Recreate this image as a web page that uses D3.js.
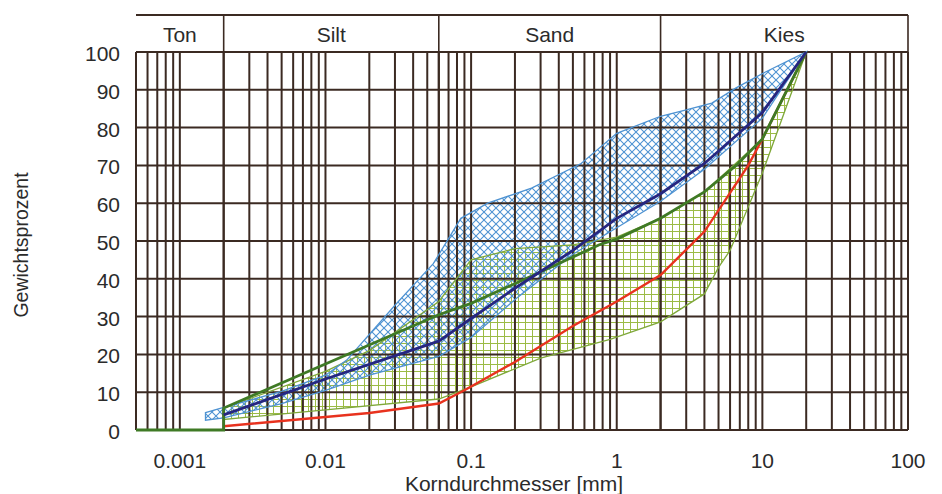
<!DOCTYPE html>
<html>
<head>
<meta charset="utf-8">
<script src="https://cdn.jsdelivr.net/npm/d3@7/dist/d3.min.js"></script>
<style>
	body { margin:0; background:#fff; }
	text { font-family: "Liberation Sans", Arial, sans-serif; fill:#2b2b2b; }
</style>
</head>
<body>
<div id="chart"></div>
<script>
//Korngrößenverteilung - values

var xTickLabels = [0.001, 0.01, 0.1, 1, 10, 100];
var yTicks = [0, 10, 20, 30, 40, 50, 60, 70, 80, 90, 100];
var fractionNames = ["Ton", "Silt", "Sand", "Kies"];
var fractionBounds = [0.0005, 0.002, 0.06, 2, 100];

//blue range (cross hatched)
var blueUpper = [[0.0015,4.6],[0.002,6],[0.005,10.2],[0.01,14.5],[0.014,18.5],[0.03,33],[0.055,44],[0.085,56],[0.13,60],[0.26,64],[0.57,70.5],[1,78.5],[2,83],[3,84.7],[4.5,86.5],[6.6,90.5],[10.5,94.7],[20,100]];
var blueLower = [[0.0015,2.6],[0.002,3.2],[0.005,7],[0.01,10.5],[0.02,14.5],[0.06,19.5],[0.1,24.5],[0.2,34.5],[0.5,46.5],[1,53.5],[2,60.5],[4,69],[10,82.5],[20,100]];

//green range (square hatched)
var greenUpper = [[0.002,5.8],[0.01,15.5],[0.02,21],[0.06,34],[0.1,45],[0.2,48],[0.5,49],[1,51],[2,56],[4,63],[10,77],[20,100]];
var greenLower = [[0.002,2.8],[0.01,5.3],[0.06,8.2],[0.1,11.4],[0.3,19],[0.9,24],[2,28.6],[4,36],[5,43],[6,47.5],[10,68],[20,100]];

//single curves
var navyLine = [[0.002,4],[0.01,13.5],[0.06,23.5],[0.1,29.5],[0.2,37.5],[0.5,47.5],[1,56],[2,62.5],[4,70.5],[10,84],[20,100]];
var darkGreenLine = [[0.0005,0],[0.002,0],[0.002,5.8],[0.06,30.5],[0.1,33.5],[0.27,41],[0.76,49],[1,50.5],[2,56],[4,63],[6.6,70],[10,77],[20,100]];
var redLine = [[0.002,1],[0.02,4.5],[0.06,7],[0.09,10.5],[0.2,18],[0.5,27.5],[1,34],[2,41],[4,52.5],[8,70],[10,77],[20,100]];

var width = 942, height = 494;
var margin = { left: 136, right: 908, top: 52, bottom: 430, head: 15 };

var svg = d3.select("#chart").append("svg")
	.attr("width", width)
	.attr("height", height);

var x = d3.scaleLog().domain([fractionBounds[0], fractionBounds[fractionBounds.length-1]]).range([margin.left, margin.right]);
var y = d3.scaleLinear().domain([0, 100]).range([margin.bottom, margin.top]);

///////////////////////////////////////////////////////////////////////////
////////////////////////////// Hatch patterns /////////////////////////////
///////////////////////////////////////////////////////////////////////////

var defs = svg.append("defs");

var bluePat = defs.append("pattern")
	.attr("id", "blueHatch")
	.attr("patternUnits", "userSpaceOnUse")
	.attr("width", 8).attr("height", 8);
bluePat.append("path").attr("d", "M0,0 L8,8 M-2,6 L2,10 M6,-2 L10,2").style("stroke", "#4f93d2").style("stroke-width", 1.1);
bluePat.append("path").attr("d", "M0,8 L8,0 M-2,2 L2,-2 M6,10 L10,6").style("stroke", "#4f93d2").style("stroke-width", 1.1);

var greenPat = defs.append("pattern")
	.attr("id", "greenHatch")
	.attr("patternUnits", "userSpaceOnUse")
	.attr("width", 7).attr("height", 7);
greenPat.append("path").attr("d", "M0,0.5 H7 M0.5,0 V7").style("stroke", "#9bbb45").style("stroke-width", 1);

var line = d3.line().x(function(d){ return x(d[0]); }).y(function(d){ return y(d[1]); });

function band(upper, lower) {
	return upper.concat(lower.slice().reverse());
}

//green area first, blue on top
svg.append("path")
	.attr("d", line(band(greenUpper, greenLower)) + "Z")
	.style("fill", "url(#greenHatch)");
svg.append("path")
	.attr("d", line(band(blueUpper, blueLower)) + "Z")
	.style("fill", "url(#blueHatch)");

///////////////////////////////////////////////////////////////////////////
/////////////////////////////////// Grid //////////////////////////////////
///////////////////////////////////////////////////////////////////////////

var gridColor = "#3b2a22";

svg.append("g").selectAll("line.vgrid")
	.data(x.ticks())
	.enter().append("line")
	.attr("class", "vgrid")
	.attr("x1", function(d){ return x(d); })
	.attr("x2", function(d){ return x(d); })
	.attr("y1", margin.top).attr("y2", margin.bottom)
	.style("stroke", gridColor).style("stroke-width", 2);

svg.append("g").selectAll("line.hgrid")
	.data(yTicks)
	.enter().append("line")
	.attr("class", "hgrid")
	.attr("x1", margin.left).attr("x2", margin.right)
	.attr("y1", function(d){ return y(d); })
	.attr("y2", function(d){ return y(d); })
	.style("stroke", gridColor).style("stroke-width", 2);

//fraction boundaries also inside the plot
svg.append("g").selectAll("line.fgrid")
	.data(fractionBounds)
	.enter().append("line")
	.attr("x1", function(d){ return x(d); })
	.attr("x2", function(d){ return x(d); })
	.attr("y1", margin.top).attr("y2", margin.bottom)
	.style("stroke", gridColor).style("stroke-width", 2);

///////////////////////////////////////////////////////////////////////////
////////////////////////////////// Header /////////////////////////////////
///////////////////////////////////////////////////////////////////////////

svg.append("line")
	.attr("x1", margin.left).attr("x2", margin.right)
	.attr("y1", margin.head).attr("y2", margin.head)
	.style("stroke", gridColor).style("stroke-width", 2);

svg.append("g").selectAll("line.fsep")
	.data(fractionBounds.slice(1))
	.enter().append("line")
	.attr("x1", function(d){ return x(d); })
	.attr("x2", function(d){ return x(d); })
	.attr("y1", margin.head).attr("y2", margin.top)
	.style("stroke", gridColor).style("stroke-width", 1.6);

svg.append("g").selectAll("text.fname")
	.data(fractionNames)
	.enter().append("text")
	.attr("x", function(d,i){ return (x(fractionBounds[i]) + x(fractionBounds[i+1]))/2; })
	.attr("y", 42)
	.attr("text-anchor", "middle")
	.style("font-size", "21px")
	.text(function(d){ return d; });

///////////////////////////////////////////////////////////////////////////
/////////////////////////////// Band outlines /////////////////////////////
///////////////////////////////////////////////////////////////////////////

svg.append("path")
	.attr("d", line(band(greenUpper, greenLower)) + "Z")
	.style("fill", "none").style("stroke", "#7fa83a").style("stroke-width", 1.3);
svg.append("path")
	.attr("d", line(band(blueUpper, blueLower)) + "Z")
	.style("fill", "none").style("stroke", "#4f93d2").style("stroke-width", 1.3);

//curves
svg.append("path").attr("d", line(redLine))
	.style("fill", "none").style("stroke", "#e8321e").style("stroke-width", 2.4);
svg.append("path").attr("d", line(darkGreenLine))
	.style("fill", "none").style("stroke", "#3f7a25").style("stroke-width", 2.8);
svg.append("path").attr("d", line(navyLine))
	.style("fill", "none").style("stroke", "#262680").style("stroke-width", 2.8);

///////////////////////////////////////////////////////////////////////////
/////////////////////////////////// Axes //////////////////////////////////
///////////////////////////////////////////////////////////////////////////

svg.append("g").selectAll("text.ylab")
	.data(yTicks)
	.enter().append("text")
	.attr("x", 120)
	.attr("y", function(d){ return y(d) + 9; })
	.attr("text-anchor", "end")
	.style("font-size", "21px")
	.text(function(d){ return d; });

svg.append("g").selectAll("text.xlab")
	.data(xTickLabels)
	.enter().append("text")
	.attr("x", function(d){ return x(d); })
	.attr("y", 468)
	.attr("text-anchor", "middle")
	.style("font-size", "21px")
	.text(function(d){ return String(d); });

svg.append("text")
	.attr("x", 514).attr("y", 491)
	.attr("text-anchor", "middle")
	.style("font-size", "21px")
	.text("Korndurchmesser [mm]");

svg.append("text")
	.attr("transform", "translate(28,245) rotate(-90)")
	.attr("text-anchor", "middle")
	.style("font-size", "19.5px")
	.text("Gewichtsprozent");
</script>
</body>
</html>
